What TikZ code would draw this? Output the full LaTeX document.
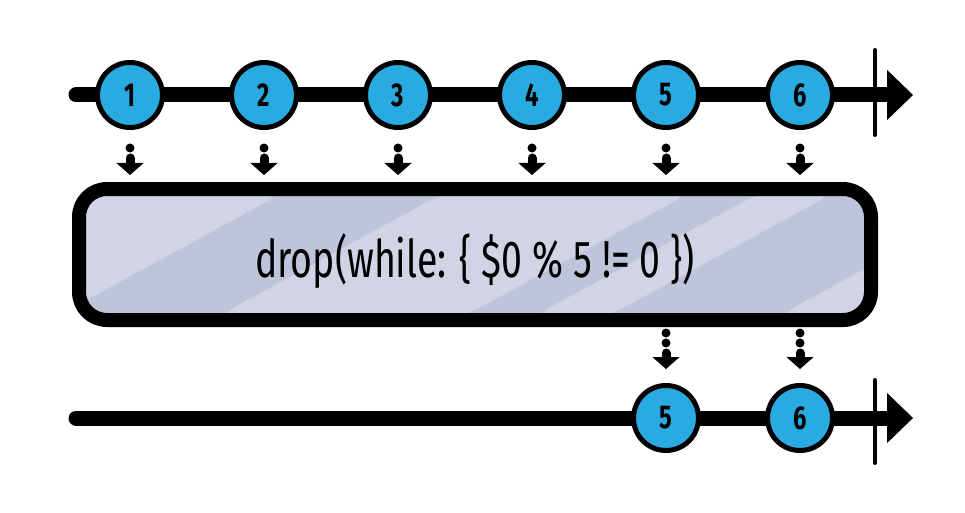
\documentclass[tikz,border=0pt]{standalone}
\usepackage{fontspec}
\newfontfamily\handfont[FakeStretch=0.72]{Fira Sans}
\usetikzlibrary{arrows.meta}
\definecolor{marbleblue}{HTML}{29ABE2}
\definecolor{boxdark}{HTML}{BEC4DA}
\definecolor{boxlight}{HTML}{D0D4E4}

\begin{document}
\begin{tikzpicture}[x=1pt,y=-1pt,line join=round,line cap=round]
	\tikzset{
		timeline/.style={line width=15pt,-{Triangle[length=26pt,width=50pt,line width=1pt]}},
		endtick/.style={line width=4pt},
		marble/.style={circle,draw,line width=5pt,fill=marbleblue,minimum size=65pt,inner sep=0pt,
			font=\handfont\bfseries\fontsize{33}{33}\selectfont},
		opbox/.style={draw,line width=14pt,rounded corners=28pt,fill=boxdark,
			minimum width=792pt,minimum height=131pt,inner sep=0pt,
			text height=45pt,text depth=0pt,
			font=\handfont\fontsize{52}{54}\selectfont},
		flow/.style={line width=9pt,-{Triangle[length=12pt,width=27pt,line width=1pt]}},
		flowin/.style={flow,dash pattern=on 0pt off 10pt on 40pt},
		flowout/.style={flow,dash pattern=on 0pt off 10pt on 0pt off 10pt on 40pt}
	}
	\def\ya{95} \def\yb{418}
	\def\xs{76} \def\xe{913} \def\xt{875}
	\useasboundingbox (0,0) rectangle (965,513);
	
	% --- Input timeline ---
	\coordinate (s1) at (\xs,\ya);
	\coordinate (e1) at (\xe,\ya);
	\draw[timeline] (s1)--(e1);
	\draw[endtick] (\xt,50)--(\xt,135);
	\foreach \i in {1,...,6}
		\node[marble] (m\i) at ({130+134*(\i-1)},\ya) {\i};
	
	% --- Operator box ---
	\node[opbox,path picture={
		\foreach \a/\b in {-300/-29,132/378,448/522,692/1000}
			\fill[boxlight] ([xshift=\a]path picture bounding box.south west)
			--([xshift=\b]path picture bounding box.south west)
			--([xshift={\b+240},yshift=131]path picture bounding box.south west)
			--([xshift={\a+240},yshift=131]path picture bounding box.south west)--cycle;
	}] (box) at (475,254.5) {drop(while: \{ \$0 \% 5 != 0 \})};
	
	\foreach \i in {1,...,6}
		\draw[flowin,shorten <=18pt,shorten >=7pt] (m\i.south)--(m\i |- box.north);
	
	% --- Output timeline ---
	\coordinate (s2) at (\xs,\yb);
	\coordinate (e2) at (\xe,\yb);
	\draw[timeline] (s2)--(e2);
	\draw[endtick] (\xt,380)--(\xt,463);
	\node[marble] (r5) at (666,\yb) {5};
	\node[marble] (r6) at (800,\yb) {6};
	
	\foreach \i in {5,6}
		\draw[flowout,shorten <=6pt,shorten >=14pt] (r\i |- box.south)--(r\i.north);
\end{tikzpicture}
\end{document}
